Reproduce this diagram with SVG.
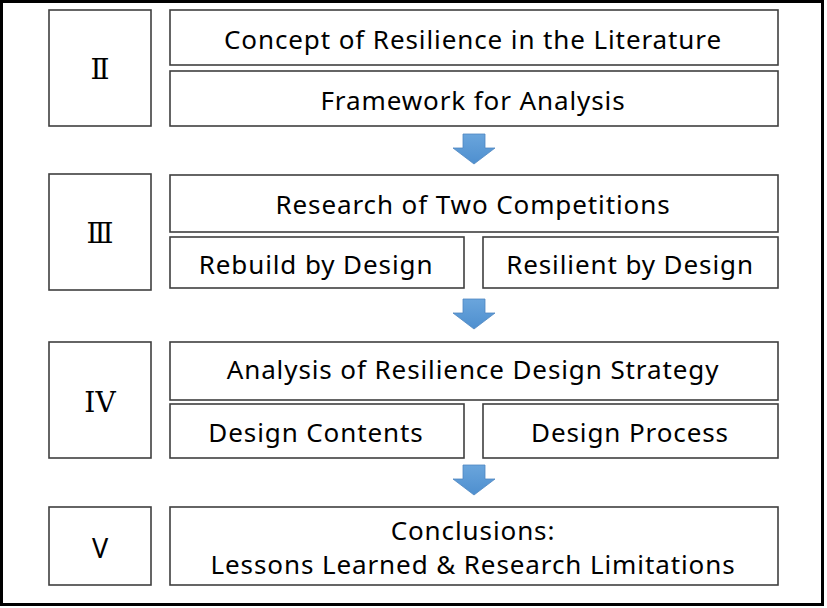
<svg xmlns="http://www.w3.org/2000/svg" width="827" height="608" viewBox="0 0 827 608">
<style>
.box{fill:#fff;stroke:#3f3f3f;stroke-width:1.6}
.t{font-family:"Noto Sans","Open Sans",sans-serif;font-size:26px;letter-spacing:0.9px;fill:#000;text-anchor:middle;dominant-baseline:central}
.r{font-family:"DejaVu Serif","Liberation Serif",serif;font-size:28px;fill:#000;text-anchor:middle;dominant-baseline:central}
.arrow{fill:url(#ag);stroke:#4f87c0;stroke-width:0.8}
</style>
<defs>
<linearGradient id="ag" x1="0" y1="0" x2="0" y2="1">
<stop offset="0" stop-color="#6aa5dc"/>
<stop offset="1" stop-color="#4e8fcf"/>
</linearGradient>
<path id="arr" d="M-11,0 H11 V14 H21 L0,30 L-21,14 H-11 Z"/>
</defs>
<rect x="1.5" y="1.5" width="821" height="603" fill="#fff" stroke="#000" stroke-width="3"/>

<g id="n-II">
<rect class="box" x="49" y="10" width="102" height="116"/>
<text class="r" x="100" y="69">Ⅱ</text>
</g>
<g id="n-concept">
<rect class="box" x="170" y="10" width="608" height="55"/>
<text class="t" x="473" y="39">Concept of Resilience in the Literature</text>
</g>
<g id="n-framework">
<rect class="box" x="170" y="71" width="608" height="55"/>
<text class="t" x="473" y="100">Framework for Analysis</text>
</g>

<g id="n-III">
<rect class="box" x="49" y="174" width="102" height="116"/>
<text class="r" x="100" y="233">Ⅲ</text>
</g>
<g id="n-research">
<rect class="box" x="170" y="175" width="608" height="57"/>
<text class="t" x="473" y="204">Research of Two Competitions</text>
</g>
<g id="n-rebuild">
<rect class="box" x="170" y="237" width="294" height="51"/>
<text class="t" x="316" y="264">Rebuild by Design</text>
</g>
<g id="n-resilient">
<rect class="box" x="483" y="237" width="295" height="51"/>
<text class="t" x="630" y="264">Resilient by Design</text>
</g>

<g id="n-IV">
<rect class="box" x="49" y="342" width="102" height="116"/>
<text class="r" x="100" y="402">IV</text>
</g>
<g id="n-analysis">
<rect class="box" x="170" y="342" width="608" height="58"/>
<text class="t" x="473" y="369">Analysis of Resilience Design Strategy</text>
</g>
<g id="n-contents">
<rect class="box" x="170" y="404" width="294" height="54"/>
<text class="t" x="316" y="432">Design Contents</text>
</g>
<g id="n-process">
<rect class="box" x="483" y="404" width="295" height="54"/>
<text class="t" x="630" y="432">Design Process</text>
</g>

<g id="n-V">
<rect class="box" x="49" y="507" width="102" height="78"/>
<text class="t" x="100" y="547" style="font-size:27px;letter-spacing:0">V</text>
</g>
<g id="n-conclusions">
<rect class="box" x="170" y="507" width="608" height="78"/>
<text class="t" x="473" y="530">Conclusions:</text>
<text class="t" x="473" y="564">Lessons Learned &amp; Research Limitations</text>
</g>

<g id="connectors">
<use href="#arr" class="arrow" x="474" y="134"/>
<use href="#arr" class="arrow" x="474" y="299"/>
<use href="#arr" class="arrow" x="474" y="465"/>
</g>
</svg>
